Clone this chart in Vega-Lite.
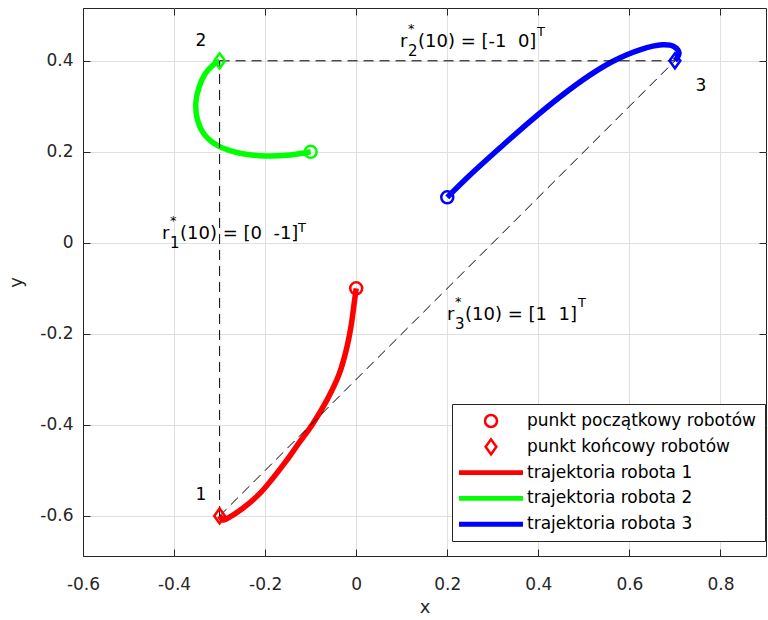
{
  "$schema": "https://vega.github.io/schema/vega-lite/v6.json",
  "width": 683,
  "height": 548,
  "autosize": "none",
  "padding": {"left": 83, "top": 8, "right": 2, "bottom": 64},
  "background": "white",
  "config": {
    "font": "DejaVu Sans",
    "view": {"stroke": "#262626", "strokeWidth": 1}
  },
  "datasets": {
    "traj": [
      {"series": "trajektoria robota 1", "o": 0, "x": 0.0, "y": -0.1},
      {"series": "trajektoria robota 1", "o": 1, "x": -0.005, "y": -0.137},
      {"series": "trajektoria robota 1", "o": 2, "x": -0.011, "y": -0.181},
      {"series": "trajektoria robota 1", "o": 3, "x": -0.022, "y": -0.236},
      {"series": "trajektoria robota 1", "o": 4, "x": -0.038, "y": -0.29},
      {"series": "trajektoria robota 1", "o": 5, "x": -0.064, "y": -0.345},
      {"series": "trajektoria robota 1", "o": 6, "x": -0.097, "y": -0.4},
      {"series": "trajektoria robota 1", "o": 7, "x": -0.126, "y": -0.44},
      {"series": "trajektoria robota 1", "o": 8, "x": -0.152, "y": -0.477},
      {"series": "trajektoria robota 1", "o": 9, "x": -0.183, "y": -0.517},
      {"series": "trajektoria robota 1", "o": 10, "x": -0.211, "y": -0.55},
      {"series": "trajektoria robota 1", "o": 11, "x": -0.249, "y": -0.583},
      {"series": "trajektoria robota 1", "o": 12, "x": -0.279, "y": -0.603},
      {"series": "trajektoria robota 1", "o": 13, "x": -0.292, "y": -0.609},
      {"series": "trajektoria robota 1", "o": 14, "x": -0.3, "y": -0.6},
      {"series": "trajektoria robota 2", "o": 0, "x": -0.1, "y": 0.2},
      {"series": "trajektoria robota 2", "o": 1, "x": -0.145, "y": 0.193},
      {"series": "trajektoria robota 2", "o": 2, "x": -0.2, "y": 0.191},
      {"series": "trajektoria robota 2", "o": 3, "x": -0.255, "y": 0.197},
      {"series": "trajektoria robota 2", "o": 4, "x": -0.303, "y": 0.213},
      {"series": "trajektoria robota 2", "o": 5, "x": -0.334, "y": 0.239},
      {"series": "trajektoria robota 2", "o": 6, "x": -0.349, "y": 0.272},
      {"series": "trajektoria robota 2", "o": 7, "x": -0.352, "y": 0.31},
      {"series": "trajektoria robota 2", "o": 8, "x": -0.345, "y": 0.342},
      {"series": "trajektoria robota 2", "o": 9, "x": -0.332, "y": 0.371},
      {"series": "trajektoria robota 2", "o": 10, "x": -0.314, "y": 0.391},
      {"series": "trajektoria robota 2", "o": 11, "x": -0.3, "y": 0.4},
      {"series": "trajektoria robota 3", "o": 0, "x": 0.2, "y": 0.1},
      {"series": "trajektoria robota 3", "o": 1, "x": 0.25, "y": 0.149},
      {"series": "trajektoria robota 3", "o": 2, "x": 0.316, "y": 0.209},
      {"series": "trajektoria robota 3", "o": 3, "x": 0.382, "y": 0.267},
      {"series": "trajektoria robota 3", "o": 4, "x": 0.448, "y": 0.321},
      {"series": "trajektoria robota 3", "o": 5, "x": 0.514, "y": 0.369},
      {"series": "trajektoria robota 3", "o": 6, "x": 0.564, "y": 0.399},
      {"series": "trajektoria robota 3", "o": 7, "x": 0.623, "y": 0.424},
      {"series": "trajektoria robota 3", "o": 8, "x": 0.672, "y": 0.435},
      {"series": "trajektoria robota 3", "o": 9, "x": 0.698, "y": 0.431},
      {"series": "trajektoria robota 3", "o": 10, "x": 0.709, "y": 0.417},
      {"series": "trajektoria robota 3", "o": 11, "x": 0.7, "y": 0.4}
    ],
    "points": [
      {"kind": "start", "robot": "1", "col": "#ff0000", "x": 0.0, "y": -0.1},
      {"kind": "start", "robot": "2", "col": "#00ff00", "x": -0.1, "y": 0.2},
      {"kind": "start", "robot": "3", "col": "#0000ff", "x": 0.2, "y": 0.1},
      {"kind": "end", "robot": "1", "col": "#ff0000", "x": -0.3, "y": -0.6},
      {"kind": "end", "robot": "2", "col": "#00ff00", "x": -0.3, "y": 0.4},
      {"kind": "end", "robot": "3", "col": "#0000ff", "x": 0.7, "y": 0.4}
    ],
    "offsets": [
      {"x": -0.3, "y": -0.6, "x2": -0.3, "y2": 0.4},
      {"x": -0.3, "y": 0.4, "x2": 0.7, "y2": 0.4},
      {"x": -0.3, "y": -0.6, "x2": 0.7, "y2": 0.4}
    ],
    "numbers": [
      {"t": "1", "x": -0.341, "y": -0.554},
      {"t": "2", "x": -0.341, "y": 0.4435},
      {"t": "3", "x": 0.757, "y": 0.3446}
    ],
    "vectors": [
      {"k": "1", "x": -0.4265, "y": 0.0084, "body": "(10) = [0 \u00a0-1]", "tx": -0.1278, "ty": 0.0249},
      {"k": "2", "x": 0.0962, "y": 0.4303, "body": "(10) = [-1 \u00a00]", "tx": 0.3971, "ty": 0.4534},
      {"k": "3", "x": 0.1995, "y": -0.1696, "body": "(10) = [1 \u00a01]", "tx": 0.4872, "ty": -0.1399}
    ]
  },
  "encoding": {
    "x": {"field": "x", "type": "quantitative", "scale": {"domain": [-0.6, 0.9], "nice": false, "zero": false}, "axis": null},
    "y": {"field": "y", "type": "quantitative", "scale": {"domain": [-0.688, 0.516], "nice": false, "zero": false}, "axis": null}
  },
  "layer": [
    {
      "data": {"name": "traj"},
      "mark": {"type": "line", "strokeWidth": 5.5, "interpolate": "catmull-rom", "strokeCap": "butt"},
      "encoding": {
        "x": {
          "field": "x", "type": "quantitative",
          "scale": {"domain": [-0.6, 0.9], "nice": false, "zero": false},
          "axis": {
            "orient": "bottom", "values": [-0.6, -0.4, -0.2, 0, 0.2, 0.4, 0.6, 0.8],
            "labelExpr": "toString(round(datum.value * 10) / 10)",
            "grid": true, "gridColor": "#dfdfdf", "gridWidth": 1,
            "domainColor": "#262626", "tickColor": "#262626", "tickSize": -7,
            "labelFont": "DejaVu Sans", "labelFontSize": 17, "labelColor": "#262626",
            "labelPadding": 27, "labelFlush": false, "labelOverlap": false,
            "title": "x", "titleFont": "DejaVu Sans", "titleFontSize": 18, "titleFontWeight": "normal",
            "titleColor": "#262626", "titlePadding": 6
          }
        },
        "y": {
          "field": "y", "type": "quantitative",
          "scale": {"domain": [-0.688, 0.516], "nice": false, "zero": false},
          "axis": {
            "orient": "left", "values": [-0.6, -0.4, -0.2, 0, 0.2, 0.4],
            "labelExpr": "toString(round(datum.value * 10) / 10)",
            "grid": true, "gridColor": "#dfdfdf", "gridWidth": 1,
            "domainColor": "#262626", "tickColor": "#262626", "tickSize": -7,
            "labelFont": "DejaVu Sans", "labelFontSize": 17, "labelColor": "#262626",
            "labelPadding": 17, "labelFlush": false, "labelOverlap": false,
            "title": "y", "titleFont": "DejaVu Sans", "titleFontSize": 18, "titleFontWeight": "normal",
            "titleColor": "#262626", "titlePadding": 14
          }
        },
        "order": {"field": "o", "type": "quantitative"},
        "color": {
          "field": "series", "type": "nominal",
          "scale": {
            "domain": ["punkt początkowy robotów", "punkt końcowy robotów", "trajektoria robota 1", "trajektoria robota 2", "trajektoria robota 3"],
            "range": ["#ff0000", "#ff0000", "#ff0000", "#00ff00", "#0000ff"]
          },
          "legend": {
            "title": null, "orient": "none", "legendX": 369, "legendY": 396,
            "padding": 8.5, "fillColor": "white", "strokeColor": "#262626", "cornerRadius": 0,
            "labelFont": "DejaVu Sans", "labelFontSize": 17, "labelColor": "#000000", "labelLimit": 400,
            "symbolSize": 144, "symbolOffset": 22, "labelOffset": 27.5, "rowPadding": 0.8,
            "gridAlign": "all",
            "symbolStrokeWidth": 2.5,
            "encode": {
              "symbols": {
                "update": {
                  "shape": {"signal": "datum.value === 'punkt początkowy robotów' ? 'circle' : datum.value === 'punkt końcowy robotów' ? 'M-0.9,0L0,-1.25L0.9,0L0,1.25Z' : 'M-5.33,-0.2L5.33,-0.2M-5.33,0.2L5.33,0.2'"},
                  "fill": {"value": "transparent"},
                  "strokeWidth": {"value": 2.5}
                }
              }
            }
          }
        }
      }
    },
    {
      "data": {"name": "offsets"},
      "mark": {"type": "rule", "color": "#000000", "strokeWidth": 1, "strokeDash": [10, 6]},
      "encoding": {
        "x2": {"field": "x2"},
        "y2": {"field": "y2"}
      }
    },
    {
      "data": {"name": "points"},
      "mark": {"type": "point", "filled": false, "size": 144, "strokeWidth": 2.5, "opacity": 1},
      "encoding": {
        "x": {
          "field": "x", "type": "quantitative",
          "scale": {"domain": [-0.6, 0.9], "nice": false, "zero": false},
          "axis": {
            "orient": "top", "values": [-0.6, -0.4, -0.2, 0, 0.2, 0.4, 0.6, 0.8],
            "labels": false, "domain": false, "grid": false,
            "tickColor": "#262626", "tickSize": -7, "title": null
          }
        },
        "y": {
          "field": "y", "type": "quantitative",
          "scale": {"domain": [-0.688, 0.516], "nice": false, "zero": false},
          "axis": {
            "orient": "right", "values": [-0.6, -0.4, -0.2, 0, 0.2, 0.4],
            "labels": false, "domain": false, "grid": false,
            "tickColor": "#262626", "tickSize": -7, "title": null
          }
        },
        "shape": {
          "field": "kind", "type": "nominal",
          "scale": {"domain": ["start", "end"], "range": ["circle", "M-0.9,0L0,-1.25L0.9,0L0,1.25Z"]},
          "legend": null
        },
        "stroke": {"field": "col", "type": "nominal", "scale": null}
      }
    },
    {
      "data": {"name": "numbers"},
      "mark": {"type": "text", "fontSize": 17, "font": "DejaVu Sans", "color": "#000000", "align": "center", "baseline": "middle"},
      "encoding": {"text": {"field": "t"}}
    },
    {
      "data": {"name": "vectors"},
      "mark": {"type": "text", "text": "r", "fontSize": 18, "font": "DejaVu Sans", "color": "#000000", "align": "left", "baseline": "alphabetic"},
      "encoding": {}
    },
    {
      "data": {"name": "vectors"},
      "mark": {"type": "text", "text": "*", "fontSize": 13, "font": "DejaVu Sans", "color": "#000000", "align": "left", "baseline": "alphabetic", "dx": 8, "dy": -14},
      "encoding": {}
    },
    {
      "data": {"name": "vectors"},
      "mark": {"type": "text", "fontSize": 15, "font": "DejaVu Sans", "color": "#000000", "align": "left", "baseline": "alphabetic", "dx": 8, "dy": 9},
      "encoding": {"text": {"field": "k"}}
    },
    {
      "data": {"name": "vectors"},
      "mark": {"type": "text", "fontSize": 18, "font": "DejaVu Sans", "color": "#000000", "align": "left", "baseline": "alphabetic", "dx": 18},
      "encoding": {"text": {"field": "body"}}
    },
    {
      "data": {"name": "vectors"},
      "mark": {"type": "text", "text": "T", "fontSize": 13, "font": "DejaVu Sans", "color": "#000000", "align": "left", "baseline": "alphabetic"},
      "encoding": {
        "x": {"field": "tx", "type": "quantitative", "scale": {"domain": [-0.6, 0.9], "nice": false, "zero": false}, "axis": null},
        "y": {"field": "ty", "type": "quantitative", "scale": {"domain": [-0.688, 0.516], "nice": false, "zero": false}, "axis": null}
      }
    }
  ],
  "resolve": {"axis": {"x": "independent", "y": "independent"}}
}
